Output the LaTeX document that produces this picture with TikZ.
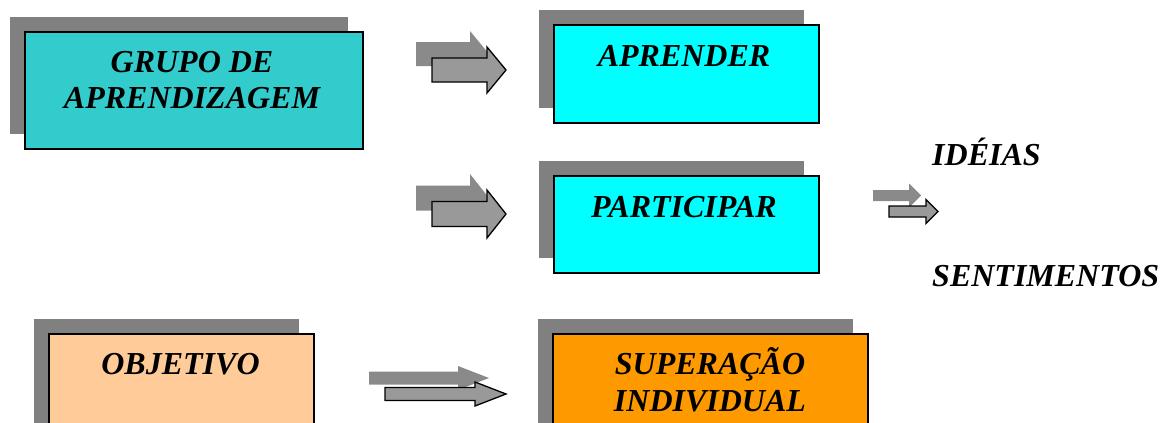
\documentclass[tikz,border=0pt]{standalone}
\usepackage{fontspec}
\setmainfont{Liberation Serif}
\usetikzlibrary{shadows}

\definecolor{tealbox}{HTML}{33CCCC}
\definecolor{cyanbox}{HTML}{00FFFF}
\definecolor{peachbox}{HTML}{FFCC99}
\definecolor{orangebox}{HTML}{FF9900}
\definecolor{shadowgray}{HTML}{808080}
\definecolor{arrowgray}{HTML}{999999}
\definecolor{arrowshadow}{HTML}{8A8A8A}

% block arrow: left x, right x, axis y, half shaft, half head, head length
\newcommand\blockarrowpath[6]{%
  (#1,{#3-#4}) -- ({#2-#6},{#3-#4}) -- ({#2-#6},{#3-#5}) -- (#2,#3) --
  ({#2-#6},{#3+#5}) -- ({#2-#6},{#3+#4}) -- (#1,{#3+#4}) -- cycle}
\newcommand\blockarrow[6]{%
  \fill[arrowshadow] \blockarrowpath{#1-16}{#2-17}{#3-16}{#4}{#5}{#6};
  \draw[arrowbody] \blockarrowpath{#1}{#2}{#3}{#4}{#5}{#6};}

\begin{document}
\begin{tikzpicture}[x=1pt,y=-1pt,
  box/.style={draw=black, line width=1.6pt, inner sep=0pt, anchor=north west,
    general shadow={fill=shadowgray, draw=none, shadow xshift=-15pt, shadow yshift=15pt}},
  label/.style={font=\fontsize{32}{36}\selectfont\bfseries\itshape, inner sep=0pt,
    anchor=base, align=center},
  sidelabel/.style={label, anchor=base west},
  arrowbody/.style={fill=arrowgray, draw=black, line width=1.3pt, line join=miter}]
\useasboundingbox (0,0) rectangle (1162,423);
\clip (0,0) rectangle (1162,423);

% boxes
\node[box, fill=tealbox, minimum width=338pt, minimum height=117pt] (grupo) at (24,31) {};
\node[box, fill=cyanbox, minimum width=265pt, minimum height=98pt] (aprender) at (553,24) {};
\node[box, fill=cyanbox, minimum width=265pt, minimum height=97pt] (participar) at (553,175) {};
\node[box, fill=peachbox, minimum width=265pt, minimum height=110pt] (objetivo) at (48,333) {};
\node[box, fill=orangebox, minimum width=315pt, minimum height=110pt] (superacao) at (552,333) {};

% texts
\node[label] (t-grupo1) at (192,72) {GRUPO DE};
\node[label] (t-grupo2) at (192,108) {APRENDIZAGEM};
\node[label] (t-aprender) at (684,66) {APRENDER};
\node[label] (t-participar) at (684,217) {PARTICIPAR};
\node[label] (t-objetivo) at (180.5,374) {OBJETIVO};
\node[label] (t-super1) at (710,374) {SUPERAÇÃO};
\node[label] (t-super2) at (710,411) {INDIVIDUAL};
\node[sidelabel] (t-ideias) at (932,165) {IDÉIAS};
\node[sidelabel] (t-sent) at (932,286) {SENTIMENTOS};

% block arrows
\blockarrow{432}{506}{70}{12}{23}{19}
\blockarrow{432}{506}{214}{12.5}{24}{19}
\blockarrow{889}{938}{211.5}{5.5}{12}{12}
\blockarrow{385}{506}{394}{6.5}{12}{31}
\end{tikzpicture}
\end{document}
